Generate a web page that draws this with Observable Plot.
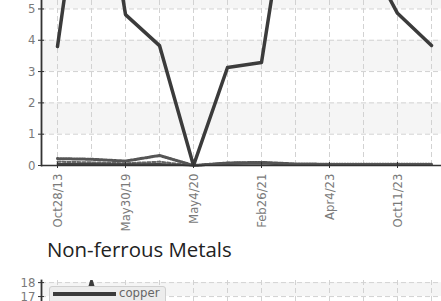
<!DOCTYPE html>
<html><head><meta charset="utf-8">
<script src="https://cdn.jsdelivr.net/npm/d3@7"></script>
<script src="https://cdn.jsdelivr.net/npm/@observablehq/plot@0.6"></script>
<style>
html,body{margin:0;padding:0;background:#fff;overflow:hidden;width:441px;height:301px;}
#wrap{position:relative;width:441px;height:301px;overflow:hidden;}
#c1,#c2{position:absolute;left:0;}
#c1{top:0;} #c2{top:280px;}
svg{max-width:none !important;}
#title{position:absolute;left:47px;top:239px;font-family:"Open Sans";font-size:20.4px;line-height:20.4px;color:#222;white-space:nowrap;}
#legend{position:absolute;left:49px;top:286px;width:117px;height:24px;background:#ececec;border:1px solid #cfcfcf;border-radius:3px;box-sizing:border-box;}
#legend .sw{position:absolute;left:3px;top:5px;width:63px;height:3.5px;background:#3b3b3b;}
#legend .lb{position:absolute;left:69px;top:-1px;font-family:"DejaVu Sans Condensed";font-size:13px;line-height:14px;color:#666;}
</style></head><body>
<div id="wrap">
<div id="c1"></div>
<div id="title">Non-ferrous Metals</div>
<div id="c2"></div>
<div id="legend"><div class="sw"></div><div class="lb">copper</div></div>
</div>
<script>
// categories (only every other label is shown on the axis)
const dates = ["Oct28/13","Jan15/17","May30/19","Nov12/19","May4/20","Sep21/20","Feb26/21","Mar3/22","Apr4/23","Jul5/23","Oct11/23","Feb7/24"];
const tickLabels = ["Oct28/13","May30/19","May4/20","Feb26/21","Apr4/23","Oct11/23"];
// upper chart series
const mainSeries = [3.8, 11.5, 4.82, 3.83, 0, 3.13, 3.29, 10.2, 10, 6.9, 4.86, 3.83];
const smallA = [0.22, 0.2, 0.14, 0.32, 0.0, 0.08, 0.1, 0.05, 0.04, 0.04, 0.04, 0.04];
const smallB = [0.05, 0.05, 0.04, 0.05, 0.0, 0.05, 0.06, 0.02, 0.02, 0.02, 0.02, 0.02];
const smallC = [0.12, 0.1, 0.07, 0.12, 0.0, 0.09, 0.1, 0.04, 0.03, 0.03, 0.03, 0.03];
const yTicks1 = [0, 1, 2, 3, 4, 5];
// lower chart (Non-ferrous Metals), only its top is in view
const copper = [9.9, 18.1, 9.9, 9.5, 8.8, 9.2, 9.6, 9.4, 9.1, 9.0, 8.9, 8.8];
const yTicks2 = [17, 18];

const FONT = "DejaVu Sans Condensed";
const GRID = "#d2d2d2";
const AX = "#333";
const TXT = "#7a7a7a";
const xOpts = {type: "point", domain: dates, padding: 0.3455};

const mainRows = dates.map((d, i) => ({date: d, value: mainSeries[i]}));
const smallRows = [
  ...dates.map((d, i) => ({date: d, value: smallA[i], s: "A"})),
  ...dates.map((d, i) => ({date: d, value: smallB[i], s: "B"})),
  ...dates.map((d, i) => ({date: d, value: smallC[i], s: "C"}))
];
const copperRows = dates.map((d, i) => ({date: d, value: copper[i]}));

const chart1 = Plot.plot({
  width: 447, height: 240,
  marginLeft: 41, marginRight: 0, marginTop: 0, marginBottom: 75,
  style: {fontFamily: FONT, fontSize: "13px", background: "transparent", maxWidth: "none"},
  x: {...xOpts, axis: null},
  y: {domain: [0, 5.27], axis: null},
  marks: [
    Plot.rect(yTicks1.filter(d => d % 2 === 1), {y1: d => d, y2: d => d + 1, fill: "#f5f5f5", clip: true}),
    Plot.ruleY(yTicks1.slice(1), {stroke: GRID, strokeDasharray: "5,3"}),
    Plot.ruleX(dates, {stroke: GRID, strokeDasharray: "5,3"}),
    Plot.line(smallRows.filter(d => d.s === "C"), {x: "date", y: "value", stroke: "#666", strokeWidth: 2, strokeDasharray: "3,2"}),
    Plot.line(smallRows.filter(d => d.s === "B"), {x: "date", y: "value", stroke: "#444", strokeWidth: 2}),
    Plot.line(smallRows.filter(d => d.s === "A"), {x: "date", y: "value", stroke: "#555", strokeWidth: 3, strokeDasharray: "1.5,1.2"}),
    Plot.line(mainRows, {x: "date", y: "value", stroke: "#3b3b3b", strokeWidth: 3.5, clip: true}),
    Plot.ruleY([0], {stroke: AX, strokeWidth: 1.5}),
    Plot.frame({anchor: "left", stroke: AX, strokeWidth: 1.8}),
    Plot.axisY({ticks: yTicks1, tickFormat: d3.format("d"), tickSize: 3, tickPadding: 3, stroke: AX, fill: TXT, label: null}),
    Plot.axisY({ticks: yTicks1, tickFormat: () => "", tickSize: -3, stroke: AX, label: null}),
    Plot.axisX({ticks: tickLabels, tickRotate: -90, tickSize: 3, tickPadding: 5, stroke: AX, fill: TXT, label: null}),
    Plot.axisX({ticks: tickLabels, tickFormat: () => "", tickSize: -3, stroke: AX, label: null})
  ]
});
document.getElementById("c1").appendChild(chart1);

const chart2 = Plot.plot({
  width: 447, height: 26,
  marginLeft: 41, marginRight: 0, marginTop: 0, marginBottom: 0,
  style: {fontFamily: FONT, fontSize: "13px", background: "transparent", maxWidth: "none", overflow: "visible"},
  x: {...xOpts, axis: null},
  y: {domain: [16.29, 18.15], axis: null},
  marks: [
    Plot.rect(yTicks2.filter(d => d % 2 === 1), {y1: d => d, y2: d => d + 1, fill: "#f5f5f5", clip: true}),
    Plot.ruleY(yTicks2, {stroke: GRID, strokeDasharray: "5,3"}),
    Plot.ruleX(dates, {stroke: GRID, strokeDasharray: "5,3"}),
    Plot.line(copperRows, {x: "date", y: "value", stroke: "#3b3b3b", strokeWidth: 3, clip: true}),
    Plot.frame({anchor: "left", stroke: AX, strokeWidth: 1.8}),
    Plot.axisY({ticks: yTicks2, tickFormat: d3.format("d"), tickSize: 3, tickPadding: 3, stroke: AX, fill: TXT, label: null}),
    Plot.axisY({ticks: yTicks2, tickFormat: () => "", tickSize: -3, stroke: AX, label: null})
  ]
});
document.getElementById("c2").appendChild(chart2);
</script>
</body></html>
